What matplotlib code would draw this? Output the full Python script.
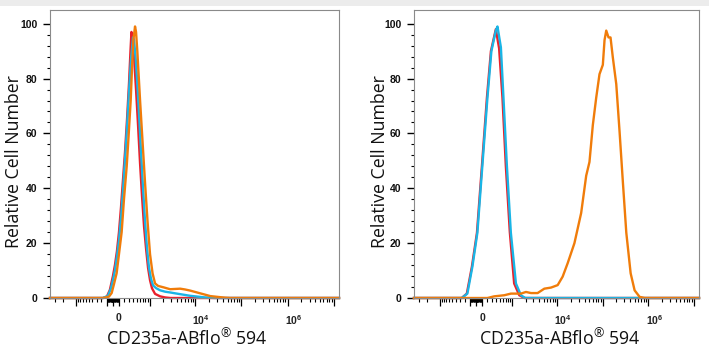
import numpy as np
import matplotlib
matplotlib.use("Agg")
import matplotlib.pyplot as plt
import matplotlib.transforms as mtransforms
from matplotlib.patches import Rectangle
from matplotlib.ticker import FixedLocator, FixedFormatter

plt.rcParams['mathtext.default'] = 'regular'

# ---------------- data (fluorescence intensity vs relative cell number) ----------------
# Left panel
red_L_x = [-3800, -172, -101, -50, 0, 33, 66, 101, 136, 172, 210, 251, 293, 327, 350, 376,
           415, 470, 530, 596, 666, 744, 829, 922, 1023, 1137, 1329, 1720, 2220, 2900, 1.3e7]
red_L_y = [0, 0, 0.5, 3, 8, 12, 17, 24, 33, 43, 53, 65, 78, 90, 97, 94,
           88, 76, 63, 49, 37, 26, 18, 11, 6.5, 3.5, 1.5, 0.6, 0.2, 0, 0]

cyan_L_x = [-3800, -172, -83, -33, 0, 33, 66, 101, 136, 172, 210, 251, 293, 339, 389, 415,
            456, 499, 562, 630, 704, 785, 874, 971, 1077, 1200, 1400, 1720, 2220, 2900, 3673,
            4714, 6056, 7778, 9999, 12837, 16494, 21186, 27200, 1.3e7]
cyan_L_y = [0, 0, 0.8, 3.5, 6.5, 10, 15, 21, 29, 39, 50, 62, 75, 87, 95, 94,
            88, 80, 67, 53, 40, 28, 18, 11, 7, 4.6, 3.6, 2.8, 2.3, 2.0, 1.7,
            1.4, 1.1, 0.8, 0.6, 0.4, 0.2, 0.1, 0, 0]

orange_L_x = [-3800, -172, -66, -21, 16.5, 61, 101, 148, 191, 245, 288, 332, 364, 397, 442,
              470, 508, 596, 685, 785, 897, 1023, 1168, 1329, 1552, 2033, 2852, 3673, 4714,
              6056, 7778, 9999, 12837, 16494, 21186, 27200, 34935, 44890, 57600, 1.3e7]
orange_L_y = [0, 0, 0.5, 1.8, 5, 9, 16, 24, 36, 48, 60, 72, 84, 94, 99,
              97, 90, 72, 57, 42, 28, 16, 9, 5.3, 4.4, 3.9, 3.2, 3.3, 3.4,
              3.1, 2.7, 2.2, 1.7, 1.2, 0.7, 0.5, 0.3, 0.1, 0, 0]

# Right panel
red_R_x = [-3800, -260, -160, -70, 15, 100, 190, 272, 388, 478, 584, 708, 880, 1109, 1450, 1900, 1.3e7]
red_R_y = [0, 0, 1.6, 11.4, 23.8, 48.3, 72.9, 90, 98, 91, 73, 48, 24, 5.3, 1, 0, 0]

cyan_R_x = [-3800, -260, -150, -62, 22, 107, 200, 282, 388, 431, 532, 619, 749, 930, 1217, 1580, 1974, 1.3e7]
cyan_R_y = [0, 0, 1.6, 11.4, 23.8, 48.3, 72.9, 90, 97.5, 99, 91.4, 72.9, 48.3, 23.8, 5.3, 1, 0, 0]

orange_R_x = [-3800, 200, 345, 644, 933, 1577, 2044, 2643, 3700, 5200, 7310, 10230, 13170,
              16970, 23880, 33560, 43300, 46900, 51100, 60500, 71800, 84800, 100400, 109400,
              119300, 134000, 148100, 166500, 198000, 234000, 277300, 329000, 410000, 500800,
              646000, 834000, 1.3e7]
orange_R_y = [0, 0, 0.6, 1.0, 1.6, 1.6, 2.2, 1.8, 1.8, 3.4, 3.8, 4.7, 7.8,
              12.7, 20, 31, 44.6, 47, 49.6, 63, 73, 81.6, 85, 94,
              97.5, 95, 95, 87.7, 78, 60.7, 42, 23.8, 9, 2.8,
              0.4, 0, 0]

x_major = [-1000, -100, 0, 100, 1000, 1e4, 1e5, 1e6, 1e7]
x_major_labels = ['', '', '0', '', '', '$10^4$', '', '$10^6$', '']
y_major = [0, 20, 40, 60, 80, 100]
x_label = 'CD235a-ABflo$^{®}$ 594'
y_label = 'Relative Cell Number'

RED = '#e9202b'
CYAN = '#19b5e6'
ORANGE = '#f07c0a'

# ---------------- axis transform (biexponential-like) ----------------
C = 330.0


def fwd(x):
    return np.arcsinh(np.asarray(x, dtype=float) / C)


def inv(y):
    return C * np.sinh(np.asarray(y, dtype=float))


x_minor = []
for e in range(0, 7):
    for k in range(2, 10):
        x_minor.append(k * 10 ** e)
x_minor_neg = [-v for v in x_minor if v <= 3000]
x_minor_all = sorted(x_minor_neg + x_minor)

fig = plt.figure(figsize=(7.09, 3.5), dpi=100)
fig.patches.append(Rectangle((0, 344 / 350), 1, 6 / 350, transform=fig.transFigure,
                             facecolor='#ececec', edgecolor='none', zorder=0))

ax1 = fig.add_axes([50 / 709, 52 / 350, 289 / 709, 288 / 350])
ax2 = fig.add_axes([414 / 709, 52 / 350, 285 / 709, 288 / 350])

panels = [
    (ax1, [(red_L_x, red_L_y, RED), (cyan_L_x, cyan_L_y, CYAN), (orange_L_x, orange_L_y, ORANGE)],
     -0.124, 0.474),
    (ax2, [(red_R_x, red_R_y, RED), (cyan_R_x, cyan_R_y, CYAN), (orange_R_x, orange_R_y, ORANGE)],
     -0.119, 0.512),
]

offset = mtransforms.ScaledTranslation(6 / 100, 0, fig.dpi_scale_trans)

for ax, series, ylab_x, xlab_x in panels:
    ax.set_xscale('function', functions=(fwd, inv))
    for xs, ys, col in series:
        ax.plot(xs, ys, color=col, lw=1.7, clip_on=False, solid_joinstyle='round')
    ax.set_xlim(-3800, 1.3e7)
    ax.set_ylim(0, 105)

    for s in ax.spines.values():
        s.set_color('#8a8a8a')
        s.set_linewidth(0.8)

    ax.xaxis.set_major_locator(FixedLocator(x_major))
    ax.xaxis.set_major_formatter(FixedFormatter(x_major_labels))
    ax.xaxis.set_minor_locator(FixedLocator(x_minor_all))
    ax.yaxis.set_major_locator(FixedLocator(y_major))
    ax.yaxis.set_minor_locator(FixedLocator(list(range(0, 101, 4))))

    ax.tick_params(axis='x', which='major', direction='out', length=6, width=0.9,
                   color='black', pad=5, labelsize=7.5, labelcolor='#222222')
    ax.tick_params(axis='x', which='minor', direction='out', length=3, width=0.8, color='black')
    ax.tick_params(axis='y', which='major', direction='out', length=5, width=1.0,
                   color='black', pad=4, labelsize=7.5, labelcolor='#111111')
    ax.tick_params(axis='y', which='minor', direction='out', length=2.5, width=0.8, color='black')

    for lab in ax.get_xticklabels() + ax.get_yticklabels():
        lab.set_fontfamily('Liberation Sans')
        lab.set_fontweight('bold')
    for lab in ax.get_xticklabels():
        lab.set_transform(lab.get_transform() + offset)

    ax.set_ylabel(y_label, fontsize=12.8, family='Open Sans', color='#111111')
    ax.yaxis.label.set_va('center')
    ax.yaxis.set_label_coords(ylab_x, 0.474)
    ax.set_xlabel(x_label, fontsize=12.8, family='Open Sans', color='#111111')
    ax.xaxis.label.set_va('baseline')
    ax.xaxis.set_label_coords(xlab_x, -0.166)

fig.savefig('out.png', dpi=100)
